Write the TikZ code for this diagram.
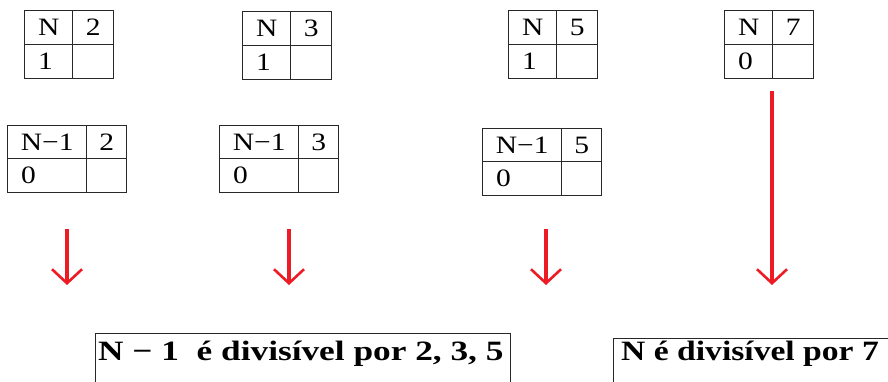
\documentclass[tikz,border=0pt]{standalone}
\usepackage{fontspec}
\setmainfont{Liberation Serif}
\usetikzlibrary{arrows.meta}
\definecolor{arrred}{RGB}{237,28,36}
\definecolor{linegray}{RGB}{40,40,40}
\newcommand{\wtxt}[1]{\scalebox{1.18}[1]{#1}}
\newcommand{\wbig}[2][1.26]{\scalebox{#1}[1]{#2}}
\begin{document}
\begin{tikzpicture}[x=1pt,y=-1pt,
  cell/.style={draw=linegray,line width=1.4pt,minimum width=#1,inner sep=0pt,anchor=north west},
  txt/.style={inner sep=0pt,font=\fontsize{25}{25}\selectfont},
  bigtxt/.style={inner sep=0pt,font=\fontsize{28}{28}\selectfont\bfseries},
  redarrow/.style={draw=arrred,line width=4pt,-{Straight Barb[length=14pt,width=30pt,line width=2.6pt]}}
]
\useasboundingbox (0,0) rectangle (888,381);
\clip (0,0) rectangle (888,381);
\fill[white] (0,0) rectangle (888,381);

% ---- top tables: N | p / r | ----
\foreach \nm/\x/\y/\p/\r in {ta/24/10/2/1, tb/242/11/3/1, tc/508/10/5/1, td/724/10/7/0}{
  \node[cell=48pt,minimum height=34pt] (\nm1) at (\x,\y) {};
  \node[cell=41pt,minimum height=34pt] (\nm2) at (\x+48,\y) {};
  \node[cell=48pt,minimum height=34pt] (\nm3) at (\x,\y+34) {};
  \node[cell=41pt,minimum height=34pt] (\nm4) at (\x+48,\y+34) {};
  \node[txt] at (\nm1) {\wtxt{N}};
  \node[txt] at (\nm2) {\wtxt{\p}};
  \node[txt,anchor=west] at ([xshift=14pt]\nm3.west) {\wtxt{\r}};
}

% ---- bottom tables: N-1 | p / 0 | ----
\foreach \nm/\x/\y/\p in {ba/7/125/2, bb/219/125/3, bc/482/128/5}{
  \node[cell=79pt,minimum height=33pt] (\nm1) at (\x,\y) {};
  \node[cell=40pt,minimum height=33pt] (\nm2) at (\x+79,\y) {};
  \node[cell=79pt,minimum height=34pt] (\nm3) at (\x,\y+33) {};
  \node[cell=40pt,minimum height=34pt] (\nm4) at (\x+79,\y+33) {};
  \node[txt] at (\nm1) {\wtxt{N−1}};
  \node[txt] at (\nm2) {\wtxt{\p}};
  \node[txt,anchor=west] at ([xshift=14pt]\nm3.west) {\wtxt{0}};
}

% ---- arrows ----
\coordinate (a1s) at (67,229); \coordinate (a1e) at (67,285);
\coordinate (a2s) at (289,229); \coordinate (a2e) at (289,285);
\coordinate (a3s) at (546,229); \coordinate (a3e) at (546,285);
\coordinate (a4s) at (772,91);  \coordinate (a4e) at (772,285);
\draw[redarrow] (a1s) -- (a1e);
\draw[redarrow] (a2s) -- (a2e);
\draw[redarrow] (a3s) -- (a3e);
\draw[redarrow] (a4s) -- (a4e);

% ---- conclusion boxes ----
\node[draw=linegray,line width=1.4pt,minimum width=415pt,minimum height=80pt,inner sep=0pt,anchor=north west] (box1) at (95,333) {};
\node[bigtxt,anchor=base west] (c1) at (98,360) {\wbig{N − 1\ \ é divisível por 2, 3, 5}};
\node[draw=linegray,line width=1.4pt,minimum width=300pt,minimum height=80pt,inner sep=0pt,anchor=north west] (box2) at (613,338) {};
\node[bigtxt,anchor=base west] (c2) at (621,360) {\wbig[1.2]{N é divisível por 7}};
\end{tikzpicture}
\end{document}
